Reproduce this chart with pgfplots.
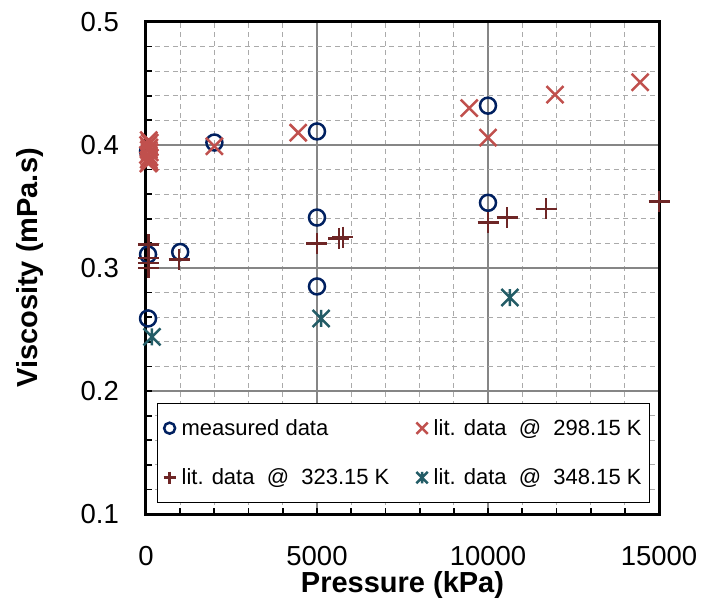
\documentclass[border=0pt]{standalone}
\usepackage{pgfplots}
\pgfplotsset{compat=1.18}
\usepackage{fontspec}
\setmainfont{Liberation Sans}
\usetikzlibrary{plotmarks}

\definecolor{meas}{RGB}{0,32,96}
\definecolor{litA}{RGB}{192,80,77}
\definecolor{litB}{RGB}{110,38,38}
\definecolor{litC}{RGB}{35,92,102}
\definecolor{majgrid}{RGB}{134,134,134}
\definecolor{mingrid}{RGB}{170,170,170}

\pgfdeclareplotmark{xstar}{%
  \pgfpathmoveto{\pgfqpoint{-.7071\pgfplotmarksize}{-.7071\pgfplotmarksize}}%
  \pgfpathlineto{\pgfqpoint{.7071\pgfplotmarksize}{.7071\pgfplotmarksize}}%
  \pgfpathmoveto{\pgfqpoint{-.7071\pgfplotmarksize}{.7071\pgfplotmarksize}}%
  \pgfpathlineto{\pgfqpoint{.7071\pgfplotmarksize}{-.7071\pgfplotmarksize}}%
  \pgfpathmoveto{\pgfqpoint{0pt}{-.7071\pgfplotmarksize}}%
  \pgfpathlineto{\pgfqpoint{0pt}{.7071\pgfplotmarksize}}%
  \pgfusepathqstroke}

\pgfplotsset{
  lm/.style={legend image code/.code={\draw[##1, mark size=#1] plot coordinates {(0.2cm,0cm)};}},
}

\begin{document}
\begin{tikzpicture}
\begin{axis}[
  scale only axis, width=513bp, height=492bp,
  xmin=0, xmax=15000, ymin=0.1, ymax=0.5,
  xtick={0,5000,10000,15000},
  ytick={0.1,0.2,0.3,0.4,0.5},
  minor xtick={1000,2000,3000,4000,6000,7000,8000,9000,11000,12000,13000,14000},
  minor ytick={0.12,0.14,0.16,0.18,0.22,0.24,0.26,0.28,0.32,0.34,0.36,0.38,0.42,0.44,0.46,0.48},
  scaled x ticks=false,
  /pgf/number format/assume math mode=true,
  xticklabel style={/pgf/number format/1000 sep={}, inner sep=0pt, font=\fontsize{27.5bp}{30bp}\selectfont},
  yticklabel style={/pgf/number format/fixed, /pgf/number format/precision=1, /pgf/number format/fixed zerofill, inner sep=0pt, font=\fontsize{27.5bp}{30bp}\selectfont},
  xticklabel shift=32bp, yticklabel shift=27bp,
  grid=both,
  major grid style={majgrid, line width=1.3bp},
  minor grid style={mingrid, line width=1.3bp, dash pattern=on 5bp off 4bp},
  tick pos=left, tick align=inside,
  major tick length=6bp, minor tick length=6bp,
  every tick/.style={black, line width=1.8bp},
  every minor tick/.style={black, line width=1.8bp},
  axis line style={black, line width=3bp},
  xlabel={\textbf{Pressure (kPa)}},
  ylabel={\textbf{Viscosity (mPa.s)}},
  xlabel style={at={(axis description cs:0.5,-0.145)}, anchor=center, font=\fontsize{29bp}{32bp}\selectfont},
  ylabel style={at={(axis description cs:-0.226,0.5)}, anchor=center, rotate=0, font=\fontsize{29bp}{32bp}\selectfont},
  legend columns=2,
  legend cell align=left,
  legend style={at={(0.0214,0.0224)}, anchor=south west, draw=black, line width=1.3bp, fill=white,
    font=\fontsize{22bp}{26bp}\selectfont, inner xsep=6bp, inner ysep=14bp,
    /tikz/every odd column/.append style={column sep=4bp},
    /tikz/every even column/.append style={column sep=25bp},
    row sep=28bp},
]
% measured data
\addplot[only marks, mark=o, mark size=8bp, line width=2.5bp, color=meas, lm=5.5bp] coordinates {
(60,0.395) (2000,0.402) (5000,0.411) (10000,0.432)
(60,0.311) (1000,0.313) (5000,0.341) (10000,0.353)
(60,0.259) (5000,0.285)
};
\addlegendentry{measured data}
% 298.15 K
\addplot[only marks, mark=x, mark size=12bp, line width=2.5bp, color=litA, lm=8bp] coordinates {
(80,0.404) (110,0.402) (60,0.400) (100,0.398) (80,0.396) (110,0.394) (60,0.392) (100,0.390) (80,0.388) (110,0.386) (70,0.385)
(2000,0.399) (4450,0.410) (9450,0.430) (10000,0.406) (11960,0.441) (14450,0.451)
};
\addlegendentry{lit. data~~@~~298.15 K}
% 323.15 K
\addplot[only marks, mark=+, mark size=10.5bp, line width=2.5bp, color=litB, lm=6bp] coordinates {
(70,0.319) (70,0.308) (70,0.304) (70,0.300)
(970,0.307) (5000,0.320) (5640,0.324) (5760,0.325)
(10000,0.337) (10560,0.341) (11700,0.348) (15000,0.354)
};
\addlegendentry{lit. data~~@~~323.15 K}
% 348.15 K
\addplot[only marks, mark=xstar, mark size=12bp, line width=2.5bp, color=litC, lm=8bp] coordinates {
(175,0.244) (5120,0.259) (10640,0.276)
};
\addlegendentry{lit. data~~@~~348.15 K}
\end{axis}
\pgfresetboundingbox
\path[use as bounding box] (-146bp,-89bp) rectangle (558bp,514bp);
\end{tikzpicture}
\end{document}
